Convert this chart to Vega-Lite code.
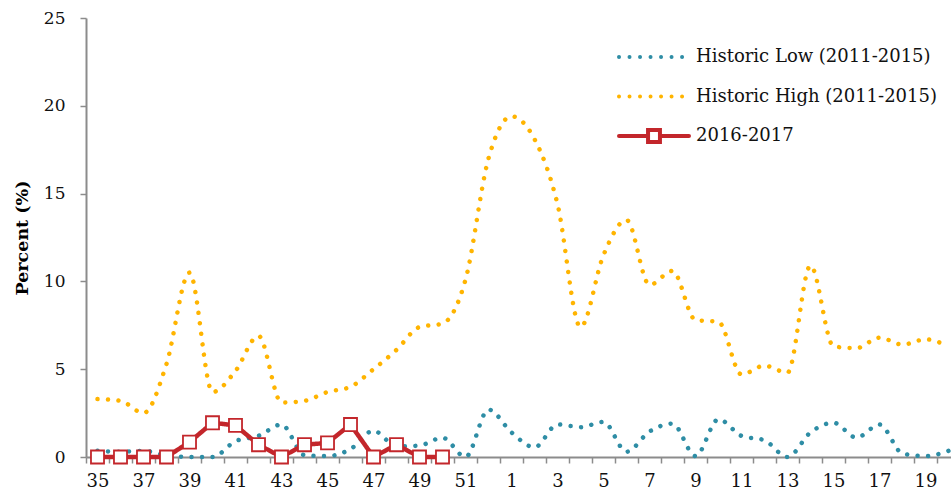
{
  "$schema": "https://vega.github.io/schema/vega-lite/v6.json",
  "width": 874,
  "height": 439,
  "padding": {"left": 13, "top": 9, "right": 0, "bottom": 0},
  "config": {
    "view": {"stroke": null},
    "font": "DejaVu Serif",
    "axis": {"grid": false, "domainColor": "#8c8c8c", "tickColor": "#8c8c8c", "labelColor": "#111", "labelFont": "DejaVu Serif"}
  },
  "datasets": {
    "series": [
      {"week": "35", "series": "Historic Low (2011-2015)", "value": 0.35},
      {"week": "36", "series": "Historic Low (2011-2015)", "value": 0.3},
      {"week": "37", "series": "Historic Low (2011-2015)", "value": 0.35},
      {"week": "38", "series": "Historic Low (2011-2015)", "value": 0.1},
      {"week": "39", "series": "Historic Low (2011-2015)", "value": 0},
      {"week": "40", "series": "Historic Low (2011-2015)", "value": 0},
      {"week": "41", "series": "Historic Low (2011-2015)", "value": 0.9},
      {"week": "42", "series": "Historic Low (2011-2015)", "value": 1.2},
      {"week": "43", "series": "Historic Low (2011-2015)", "value": 1.85},
      {"week": "44", "series": "Historic Low (2011-2015)", "value": 0.1},
      {"week": "45", "series": "Historic Low (2011-2015)", "value": 0.05},
      {"week": "46", "series": "Historic Low (2011-2015)", "value": 0.45},
      {"week": "47", "series": "Historic Low (2011-2015)", "value": 1.5},
      {"week": "48", "series": "Historic Low (2011-2015)", "value": 0.6},
      {"week": "49", "series": "Historic Low (2011-2015)", "value": 0.65},
      {"week": "50", "series": "Historic Low (2011-2015)", "value": 1.1},
      {"week": "51", "series": "Historic Low (2011-2015)", "value": 0},
      {"week": "52", "series": "Historic Low (2011-2015)", "value": 2.7},
      {"week": "1", "series": "Historic Low (2011-2015)", "value": 1.4},
      {"week": "2", "series": "Historic Low (2011-2015)", "value": 0.55},
      {"week": "3", "series": "Historic Low (2011-2015)", "value": 1.85},
      {"week": "4", "series": "Historic Low (2011-2015)", "value": 1.7},
      {"week": "5", "series": "Historic Low (2011-2015)", "value": 2.0},
      {"week": "6", "series": "Historic Low (2011-2015)", "value": 0.3},
      {"week": "7", "series": "Historic Low (2011-2015)", "value": 1.45},
      {"week": "8", "series": "Historic Low (2011-2015)", "value": 1.9},
      {"week": "9", "series": "Historic Low (2011-2015)", "value": 0.05},
      {"week": "10", "series": "Historic Low (2011-2015)", "value": 2.15},
      {"week": "11", "series": "Historic Low (2011-2015)", "value": 1.2},
      {"week": "12", "series": "Historic Low (2011-2015)", "value": 0.95},
      {"week": "13", "series": "Historic Low (2011-2015)", "value": 0},
      {"week": "14", "series": "Historic Low (2011-2015)", "value": 1.4},
      {"week": "15", "series": "Historic Low (2011-2015)", "value": 1.95},
      {"week": "16", "series": "Historic Low (2011-2015)", "value": 1.1},
      {"week": "17", "series": "Historic Low (2011-2015)", "value": 1.85},
      {"week": "18", "series": "Historic Low (2011-2015)", "value": 0.2},
      {"week": "19", "series": "Historic Low (2011-2015)", "value": 0.05},
      {"week": "20", "series": "Historic Low (2011-2015)", "value": 0.35},
      {"week": "35", "series": "Historic High (2011-2015)", "value": 3.3},
      {"week": "36", "series": "Historic High (2011-2015)", "value": 3.2},
      {"week": "37", "series": "Historic High (2011-2015)", "value": 2.5},
      {"week": "38", "series": "Historic High (2011-2015)", "value": 5.3},
      {"week": "39", "series": "Historic High (2011-2015)", "value": 10.5},
      {"week": "40", "series": "Historic High (2011-2015)", "value": 3.7},
      {"week": "41", "series": "Historic High (2011-2015)", "value": 4.9},
      {"week": "42", "series": "Historic High (2011-2015)", "value": 6.9},
      {"week": "43", "series": "Historic High (2011-2015)", "value": 3.1},
      {"week": "44", "series": "Historic High (2011-2015)", "value": 3.2},
      {"week": "45", "series": "Historic High (2011-2015)", "value": 3.7},
      {"week": "46", "series": "Historic High (2011-2015)", "value": 4.0},
      {"week": "47", "series": "Historic High (2011-2015)", "value": 5.0},
      {"week": "48", "series": "Historic High (2011-2015)", "value": 6.1},
      {"week": "49", "series": "Historic High (2011-2015)", "value": 7.4},
      {"week": "50", "series": "Historic High (2011-2015)", "value": 7.6},
      {"week": "51", "series": "Historic High (2011-2015)", "value": 10.1},
      {"week": "52", "series": "Historic High (2011-2015)", "value": 17.0},
      {"week": "1", "series": "Historic High (2011-2015)", "value": 19.4},
      {"week": "2", "series": "Historic High (2011-2015)", "value": 18.1},
      {"week": "3", "series": "Historic High (2011-2015)", "value": 14.4},
      {"week": "4", "series": "Historic High (2011-2015)", "value": 7.4},
      {"week": "5", "series": "Historic High (2011-2015)", "value": 11.5},
      {"week": "6", "series": "Historic High (2011-2015)", "value": 13.5},
      {"week": "7", "series": "Historic High (2011-2015)", "value": 9.8},
      {"week": "8", "series": "Historic High (2011-2015)", "value": 10.6},
      {"week": "9", "series": "Historic High (2011-2015)", "value": 7.8},
      {"week": "10", "series": "Historic High (2011-2015)", "value": 7.7},
      {"week": "11", "series": "Historic High (2011-2015)", "value": 4.7},
      {"week": "12", "series": "Historic High (2011-2015)", "value": 5.2},
      {"week": "13", "series": "Historic High (2011-2015)", "value": 4.8},
      {"week": "14", "series": "Historic High (2011-2015)", "value": 10.9},
      {"week": "15", "series": "Historic High (2011-2015)", "value": 6.3},
      {"week": "16", "series": "Historic High (2011-2015)", "value": 6.2},
      {"week": "17", "series": "Historic High (2011-2015)", "value": 6.8},
      {"week": "18", "series": "Historic High (2011-2015)", "value": 6.4},
      {"week": "19", "series": "Historic High (2011-2015)", "value": 6.7},
      {"week": "20", "series": "Historic High (2011-2015)", "value": 6.3},
      {"week": "35", "series": "2016-2017", "value": 0},
      {"week": "36", "series": "2016-2017", "value": 0},
      {"week": "37", "series": "2016-2017", "value": 0},
      {"week": "38", "series": "2016-2017", "value": 0},
      {"week": "39", "series": "2016-2017", "value": 0.85},
      {"week": "40", "series": "2016-2017", "value": 1.95},
      {"week": "41", "series": "2016-2017", "value": 1.8},
      {"week": "42", "series": "2016-2017", "value": 0.7},
      {"week": "43", "series": "2016-2017", "value": 0},
      {"week": "44", "series": "2016-2017", "value": 0.7},
      {"week": "45", "series": "2016-2017", "value": 0.8},
      {"week": "46", "series": "2016-2017", "value": 1.85},
      {"week": "47", "series": "2016-2017", "value": 0},
      {"week": "48", "series": "2016-2017", "value": 0.7},
      {"week": "49", "series": "2016-2017", "value": 0},
      {"week": "50", "series": "2016-2017", "value": 0}
    ]
  },
  "data": {"name": "series"},
  "encoding": {
    "x": {
      "field": "week",
      "type": "ordinal",
      "scale": {
        "type": "band",
        "paddingInner": 0,
        "paddingOuter": 0,
        "domain": ["35","36","37","38","39","40","41","42","43","44","45","46","47","48","49","50","51","52","1","2","3","4","5","6","7","8","9","10","11","12","13","14","15","16","17","18","19","20"]
      },
      "axis": {
        "title": null,
        "labelAngle": 0,
        "tickBand": "extent",
        "tickSize": 6,
        "tickWidth": 1.5,
        "domainWidth": 2,
        "labelPadding": 9,
        "labelFontSize": 18,
        "labelOverlap": false,
        "labelExpr": "toNumber(datum.value) % 2 == 1 ? datum.label : ''"
      }
    },
    "y": {
      "field": "value",
      "type": "quantitative",
      "scale": {"domain": [0, 25], "nice": false},
      "axis": {
        "title": "Percent (%)",
        "titleFontSize": 17.5,
        "titleFontWeight": "bold",
        "titleColor": "#000",
        "titlePadding": 12,
        "values": [0, 5, 10, 15, 20, 25],
        "tickSize": 6,
        "tickWidth": 1.5,
        "domainWidth": 2,
        "labelPadding": 15,
        "labelFontSize": 17
      }
    }
  },
  "layer": [
    {
      "transform": [{"filter": "datum.series !== '2016-2017'"}],
      "mark": {"type": "line", "interpolate": "monotone", "strokeWidth": 4.5, "strokeCap": "round"},
      "encoding": {
        "color": {
          "field": "series",
          "type": "nominal",
          "scale": {
            "domain": ["Historic Low (2011-2015)", "Historic High (2011-2015)", "2016-2017"],
            "range": ["#2E8DA5", "#FFB400", "#C3262B"]
          },
          "legend": {
            "title": null,
            "orient": "none",
            "legendX": 533,
            "legendY": 30,
            "padding": 0,
            "gridAlign": "all",
            "rowPadding": 11.5,
            "labelFontSize": 18,
            "labelFont": "DejaVu Serif",
            "labelColor": "#111",
            "labelLimit": 400,
            "symbolSize": 196,
            "symbolStrokeWidth": 4,
            "symbolOffset": 26,
            "labelOffset": 33,
            "symbolType": "M-5,0H5",
            "encode": {
              "symbols": {
                "update": {
                  "shape": {"signal": "datum.value === '2016-2017' ? 'M-5,0H-0.85M0.85,0H5M-0.85,-0.85H0.85V0.85H-0.85Z' : 'M-5,0H5'"},
                  "fill": {"signal": "datum.value === '2016-2017' ? 'white' : 'transparent'"},
                  "strokeCap": {"value": "round"}
                }
              }
            }
          }
        },
        "strokeDash": {
          "field": "series",
          "type": "nominal",
          "scale": {
            "domain": ["Historic Low (2011-2015)", "Historic High (2011-2015)", "2016-2017"],
            "range": [[0.01, 10.5], [0.01, 10.5], [1, 0]]
          },
          "legend": null
        }
      }
    },
    {
      "transform": [{"filter": "datum.series === '2016-2017'"}],
      "mark": {"type": "line", "strokeWidth": 4.5},
      "encoding": {
        "color": {"field": "series", "type": "nominal"},
        "strokeDash": {"field": "series", "type": "nominal"}
      }
    },
    {
      "transform": [{"filter": "datum.series === '2016-2017'"}],
      "mark": {"type": "point", "shape": "square", "size": 170, "filled": true, "fill": "white", "stroke": "#C3262B", "strokeWidth": 1.8, "opacity": 1}
    }
  ]
}
